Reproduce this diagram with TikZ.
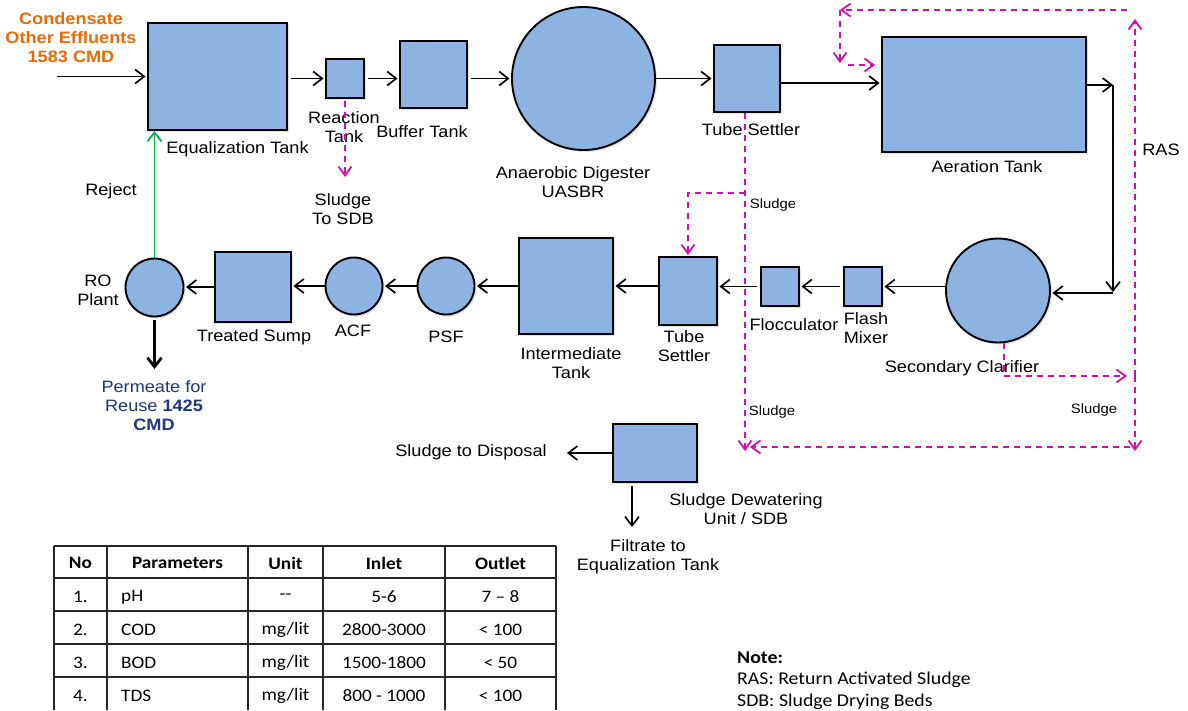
\documentclass[tikz,border=0pt]{standalone}
\usepackage{fontspec}
\setmainfont{Liberation Sans}
\newfontfamily\lf[FakeStretch=1.1]{Liberation Sans}
\newfontfamily\tf[FakeStretch=1.1]{Carlito}
\usetikzlibrary{arrows.meta,shadows}
\definecolor{boxblue}{RGB}{141,179,226}
\definecolor{mag}{RGB}{208,16,168}
\definecolor{orng}{RGB}{228,108,10}
\definecolor{navy}{RGB}{31,56,122}
\definecolor{grn}{RGB}{0,176,80}
\begin{document}
\begin{tikzpicture}[x=1pt,y=-1pt,
  tank/.style={draw=black, line width=1.9pt, fill=boxblue, inner sep=0pt,
    drop shadow={shadow xshift=2pt,shadow yshift=-2pt,opacity=0.22}},
  rbox/.style={tank, rectangle},
  rnd/.style={tank, circle},
  lbl/.style={font=\lf\fontsize{16.5}{19}\selectfont, align=center, inner sep=0pt},
  sm/.style={font=\lf\fontsize{13.5}{16}\selectfont, inner sep=0pt},
  arr/.style={draw=black, line width=1.7pt, shorten <=3pt, shorten >=1.5pt,
    -{Straight Barb[length=9pt,width=14pt]}},
  mg/.style={draw=mag, line width=1.8pt, dash pattern=on 6pt off 5pt,
    -{Straight Barb[length=9pt,width=13pt]}},
  tb/.style={font=\tf\fontsize{17.5}{20}\selectfont, inner sep=0pt},
  nt/.style={font=\tf\fontsize{18}{22}\selectfont, inner sep=0pt, anchor=west},
]
\fill[white] (0,0) rectangle (1188,710);
\useasboundingbox (0,0) rectangle (1188,710);

% ---------- units ----------
\node[rbox, minimum width=139pt, minimum height=107pt] (eq) at (217.5,76.5) {};
\node[rbox, minimum width=38pt, minimum height=39pt] (rt) at (345,78.5) {};
\node[rbox, minimum width=67pt, minimum height=67pt] (bt) at (433.5,74.5) {};
\node[rnd, minimum size=143pt] (ad) at (583.5,78.5) {};
\node[rbox, minimum width=66pt, minimum height=67pt] (ts1) at (747,78.5) {};
\node[rbox, minimum width=204pt, minimum height=115pt] (at) at (984,94.5) {};
\node[rnd, minimum size=104pt] (sc) at (998,290.5) {};
\node[rbox, minimum width=38pt, minimum height=39pt] (fm) at (863,286.5) {};
\node[rbox, minimum width=38pt, minimum height=39pt] (fl) at (780,286.5) {};
\node[rbox, minimum width=58pt, minimum height=68pt] (ts2) at (688,291) {};
\node[rbox, minimum width=94pt, minimum height=96pt] (it) at (566,286) {};
\node[rnd, minimum size=57pt] (psf) at (446,286) {};
\node[rnd, minimum size=57pt] (acf) at (354,286) {};
\node[rbox, minimum width=76pt, minimum height=70pt] (sump) at (253,287) {};
\node[rnd, minimum size=58pt] (ro) at (154.5,287.5) {};
\node[rbox, minimum width=84pt, minimum height=58pt] (sdu) at (655,453) {};

% ---------- labels ----------
\node[lbl, text=orng, font=\lf\bfseries\fontsize{16.5}{19}\selectfont] (inl) at (71,38) {Condensate\\Other Effluents\\1583 CMD};
\node[lbl] (leq) at (237.5,149) {Equalization Tank};
\node[lbl] (lrt) at (344,127.5) {Reaction\\Tank};
\node[lbl] (lbt) at (422,132) {Buffer Tank};
\node[lbl] (lad) at (573,182.5) {Anaerobic Digester\\UASBR};
\node[lbl] (lts1) at (751,130) {Tube Settler};
\node[lbl] (lat) at (987,167) {Aeration Tank};
\node[lbl] (lras) at (1161,150) {RAS};
\node[lbl] (lsdb) at (343,209) {Sludge\\To SDB};
\node[lbl] (lrej) at (111,191) {Reject};
\node[lbl] (lro) at (98,290.5) {RO\\Plant};
\node[lbl] (lsump) at (254,337) {Treated Sump};
\node[lbl] (lacf) at (353,331) {ACF};
\node[lbl] (lpsf) at (446,337) {PSF};
\node[lbl] (lit) at (571,363) {Intermediate\\Tank};
\node[lbl] (lts2) at (684,346) {Tube\\Settler};
\node[lbl] (lfl) at (794,325) {Flocculator};
\node[lbl] (lfm) at (866,328) {Flash\\Mixer};
\node[lbl] (lsc) at (962,368) {Secondary Clarifier};
\node[lbl, text=navy] (lperm) at (154,406) {Permeate for\\Reuse \textbf{1425}\\\textbf{CMD}};
\node[lbl] (ldisp) at (471,452) {Sludge to Disposal};
\node[lbl] (lsdu) at (746,509) {Sludge Dewatering\\Unit / SDB};
\node[lbl] (lflt) at (648,556.5) {Filtrate to\\Equalization Tank};
\node[sm] (sl1) at (773,205) {Sludge};
\node[sm] (sl2) at (772,412) {Sludge};
\node[sm] (sl3) at (1094,410) {Sludge};

% ---------- process flow ----------
\coordinate (inS) at (57,76.5);
\draw[arr, shorten <=0pt] (inS) -- (eq.west);
\draw[arr] (eq.east |- rt.west) -- (rt.west);
\draw[arr] (rt.east) -- (rt.east -| bt.west);
\draw[arr] (ad.west -| bt.east) -- (ad.west);
\draw[arr, shorten <=0pt] (ad.east) -- (ad.east -| ts1.west);
\coordinate (ta) at ([yshift=-4.5pt]ts1.east);
\draw[arr, shorten <=0pt] (ta) -- (ta -| at.west);
\coordinate (c1) at (1113,85);
\coordinate (c2) at (1113,293);
\draw[arr, shorten <=0pt, shorten >=0pt] (c1 -| at.east) -- (c1);
\draw[arr, shorten <=0pt, shorten >=1pt] (c1) -- (c2);
\draw[arr, shorten <=0pt] (c2) -- (c2 -| sc.east);
\draw[arr, shorten <=0pt] (fm.east -| sc.west) -- (fm.east);
\draw[arr] (fm.west) -- (fl.east);
\draw[arr] (fl.west) -- (fl.west -| ts2.east);
\draw[arr, shorten <=0pt] (ts2.west |- it.east) -- (it.east);
\draw[arr, shorten <=0pt] (it.west) -- (psf.east);
\draw[arr, shorten <=0pt] (psf.west) -- (acf.east);
\draw[arr, shorten <=0pt] (acf.west) -- (acf.west -| sump.east);
\draw[arr, shorten <=0pt] (sump.west) -- (sump.west -| ro.east);
\draw[arr, draw=grn, line width=1.8pt, shorten <=0pt, shorten >=0pt] (ro.north) -- (ro.north |- eq.south);
\coordinate (pe) at (154.5,369);
\draw[arr, line width=2.8pt, shorten >=0pt] (ro.south) -- (pe);
\coordinate (dsp) at (567,453);
\draw[arr, shorten <=0pt, shorten >=0pt] (sdu.west) -- (dsp);
\coordinate (flt) at (632,527);
\draw[arr, shorten >=0pt] (sdu.south -| flt) -- (flt);

% ---------- sludge / RAS lines ----------
\coordinate (rts) at (345,177);
\draw[mg, shorten <=2pt] (rt.south) -- (rts);
\coordinate (sj) at (745,193);
\coordinate (sb) at (745,451);
\draw[mg] (sj |- ts1.south) -- (sb);
\draw[mg, shorten >=1pt] (sj) -| (ts2.north);
\coordinate (rj) at (1135,376);
\coordinate (rtop) at (1135,19);
\coordinate (rbot) at (1135,451);
\draw[mg] ([xshift=6pt]sc.south) |- ([xshift=-8pt]rj);
\draw[mg] (rj) -- (rtop);
\draw[mg] (rj) -- (rbot);
\coordinate (bl) at (750,447);
\draw[mg] ([xshift=-5pt]bl -| rj) -- (bl);
\coordinate (tl) at (840,10);
\draw[mg] ([xshift=-8pt]tl -| rj) -- (tl);
\coordinate (tld) at (840,63);
\draw[mg] (tl) -- (tld);
\coordinate (ti) at (848,65);
\draw[mg] (ti) -- ([xshift=-6pt]ti -| at.west);

% ---------- table ----------
\foreach \yy in {546,578,611,644,677}
  \draw[line width=1.3pt, draw=black!85] (54,\yy) -- (556,\yy);
\foreach \xx in {54,107,248,323,445,556}
  \draw[line width=1.3pt, draw=black!85] (\xx,546) -- (\xx,710);
\node[tb, font=\tf\bfseries\fontsize{17.5}{20}\selectfont] (h1) at (80.5,563) {No};
\node[tb, font=\tf\bfseries\fontsize{17.5}{20}\selectfont] (h2) at (177.5,563) {Parameters};
\node[tb, font=\tf\bfseries\fontsize{17.5}{20}\selectfont] (h3) at (285.5,563) {Unit};
\node[tb, font=\tf\bfseries\fontsize{17.5}{20}\selectfont] (h4) at (384,563) {Inlet};
\node[tb, font=\tf\bfseries\fontsize{17.5}{20}\selectfont] (h5) at (500.5,563) {Outlet};
\node[tb] (a1) at (80.5,597) {1.};
\node[tb, anchor=west] (a2) at (121,597) {pH};
\node[tb] (a3) at (285.5,597) {{-}{-}};
\node[tb] (a4) at (384,597) {5-6};
\node[tb] (a5) at (500.5,597) {7 – 8};
\node[tb] (b1) at (80.5,630) {2.};
\node[tb, anchor=west] (b2) at (121,630) {COD};
\node[tb] (b3) at (285.5,630) {mg/lit};
\node[tb] (b4) at (384,630) {2800-3000};
\node[tb] (b5) at (500.5,630) {< 100};
\node[tb] (c1t) at (80.5,663) {3.};
\node[tb, anchor=west] (c2t) at (121,663) {BOD};
\node[tb] (c3t) at (285.5,663) {mg/lit};
\node[tb] (c4t) at (384,663) {1500-1800};
\node[tb] (c5t) at (500.5,663) {< 50};
\node[tb] (d1) at (80.5,696) {4.};
\node[tb, anchor=west] (d2) at (121,696) {TDS};
\node[tb] (d3) at (285.5,696) {mg/lit};
\node[tb] (d4) at (384,696) {800 - 1000};
\node[tb] (d5) at (500.5,696) {< 100};

% ---------- note ----------
\node[nt] (n1) at (737,658) {\textbf{Note:}};
\node[nt] (n2) at (737,680) {RAS: Return Activated Sludge};
\node[nt] (n3) at (737,702) {SDB: Sludge Drying Beds};
\end{tikzpicture}
\end{document}
